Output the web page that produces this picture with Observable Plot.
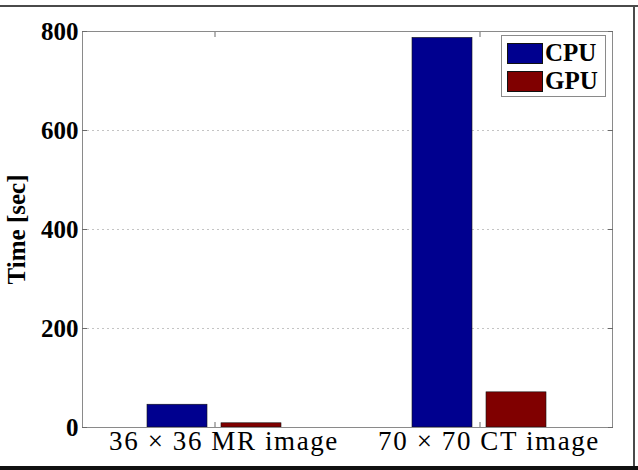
<!DOCTYPE html>
<html>
<head>
<meta charset="utf-8">
<script src="https://cdn.jsdelivr.net/npm/d3@7"></script>
<script src="https://cdn.jsdelivr.net/npm/@observablehq/plot@0.6"></script>
<style>
  html, body { margin: 0; padding: 0; background: #fff; }
  #wrap { position: relative; width: 638px; height: 470px; overflow: hidden; background: #fff; }
  #wrap svg { position: absolute; left: 0; top: 0; }
  #wrap svg text { font-family: "Liberation Serif", "Times New Roman", Times, "Nimbus Roman", "DejaVu Serif", serif; }
  g[aria-label="fx-axis tick label"] text { letter-spacing: 1.6px; }
  .edge { position: absolute; background: #4a4a4a; }
  #legend { position: absolute; left: 501px; top: 35px; width: 105px; height: 62px;
            border: 1px solid #8a8a8a; background: #fff; box-sizing: border-box; }
  .lrow { position: absolute; left: 5px; height: 22px; display: flex; align-items: center; }
  .sw { width: 36px; height: 21px; box-sizing: border-box; border: 0.6px solid #111; }
  .lt { margin-left: 2px; font-family: "Liberation Serif", "Times New Roman", Times, "Nimbus Roman", "DejaVu Serif", serif;
        font-weight: bold; font-size: 25px; line-height: 22px; color: #000; }
</style>
</head>
<body>
<div id="wrap"></div>
<script>
const categories = ["36 × 36 MR image", "70 × 70 CT image"];
const series = ["CPU", "GPU"];
const cpuTimes = [46, 787];
const gpuTimes = [8.5, 71];
const yTicks = [0, 200, 400, 600, 800];
const gridValues = [200, 400, 600];
const colors = ["#00008f", "#800000"];

const data = categories.flatMap((c, i) => [
  {category: c, series: series[0], time: cpuTimes[i]},
  {category: c, series: series[1], time: gpuTimes[i]}
]);

const tickColor = "#6a6a6a";
const serifStack = "'Liberation Serif', 'Times New Roman', Times, 'Nimbus Roman', 'DejaVu Serif', serif";

const chart = Plot.plot({
  width: 638,
  height: 470,
  marginLeft: 81,
  marginRight: 26,
  marginTop: 31,
  marginBottom: 43,
  style: {fontFamily: serifStack, color: "#000", background: "transparent", overflow: "visible"},
  fx: {domain: categories, padding: 0, label: null, axis: null},
  x: {domain: series, paddingInner: 0.187, paddingOuter: 0.863, axis: null},
  y: {domain: [0, 800], label: null, axis: null},
  color: {domain: series, range: colors},
  marks: [
    Plot.gridY(gridValues, {stroke: "#c4c4c4", strokeOpacity: 1, strokeDasharray: "2,3"}),
    Plot.barY(data, {fx: "category", x: "series", y: "time", fill: "series", stroke: "#111", strokeWidth: 0.6}),
    Plot.frame({facet: "super", stroke: "#8a8a8a"}),
    // y tick labels + axis title
    Plot.axisY(yTicks, {anchor: "left", tickSize: 0, tickPadding: 4, fontSize: 25, fontWeight: "bold",
      label: "Time [sec]", labelAnchor: "center", labelArrow: "none", labelOffset: 75}),
    // inward tick marks
    Plot.axisY(yTicks, {anchor: "left", tickSize: -5, tickFormat: () => "", label: null, stroke: tickColor}),
    Plot.axisY(yTicks, {anchor: "right", tickSize: -5, tickFormat: () => "", label: null, stroke: tickColor}),
    Plot.axisFx({anchor: "bottom", tickSize: -5, tickFormat: () => "", label: null, stroke: tickColor}),
    Plot.axisFx({anchor: "top", tickSize: -5, tickFormat: () => "", label: null, stroke: tickColor}),
    // category labels
    Plot.axisFx({anchor: "bottom", tickSize: 0, tickPadding: 3, fontSize: 27, label: null, dx: 9})
  ]
});

const wrap = document.getElementById("wrap");
wrap.appendChild(chart);

// outer border of the picture
[["left:0;top:5px;width:638px;height:2px"],
 ["left:633px;top:5px;width:2px;height:462px"],
 ["left:0;top:466px;width:638px;height:4px;background:#111"]].forEach(([s]) => {
  const d = document.createElement("div");
  d.className = "edge";
  d.setAttribute("style", s);
  wrap.appendChild(d);
});

// legend
const legend = document.createElement("div");
legend.id = "legend";
series.forEach((s, i) => {
  const row = document.createElement("div");
  row.className = "lrow";
  row.style.top = (6 + i * 28) + "px";
  const sw = document.createElement("div");
  sw.className = "sw";
  sw.style.background = colors[i];
  const t = document.createElement("span");
  t.className = "lt";
  t.textContent = s;
  row.appendChild(sw);
  row.appendChild(t);
  legend.appendChild(row);
});
wrap.appendChild(legend);
</script>
</body>
</html>
